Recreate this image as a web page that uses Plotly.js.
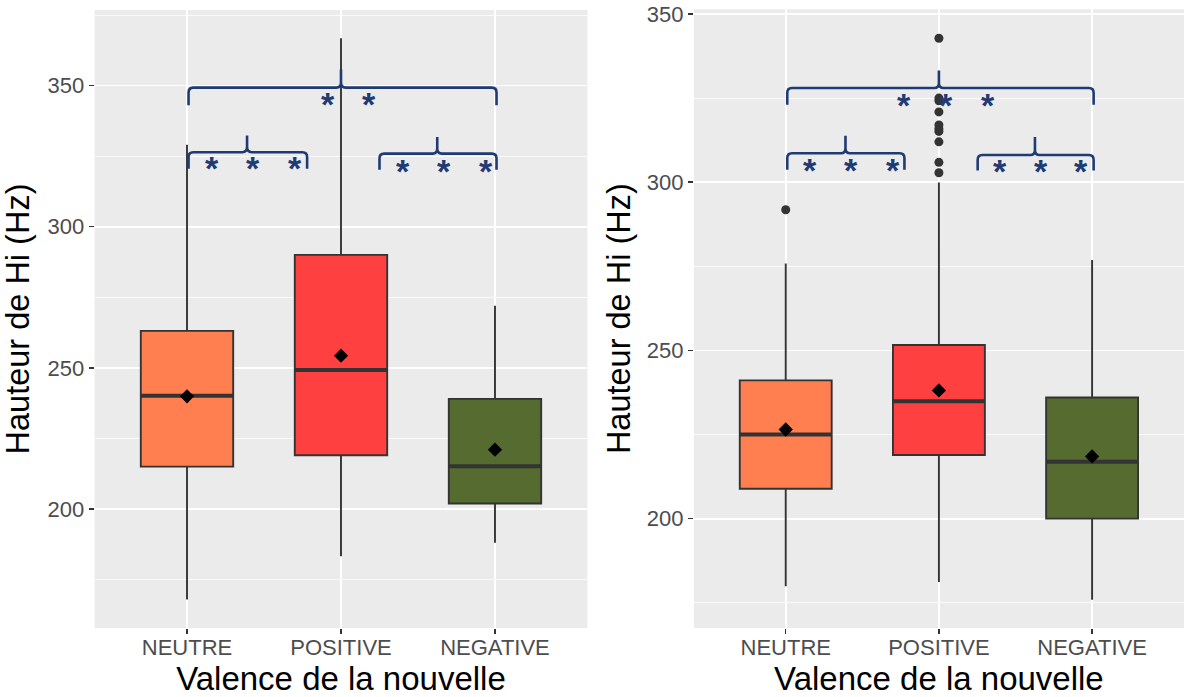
<!DOCTYPE html>
<html><head><meta charset="utf-8">
<script src="https://cdn.plot.ly/plotly-3.0.1.min.js"></script>
<style>html,body{margin:0;padding:0;background:#fff}#chart{width:1184px;height:697px}</style>
</head><body><div id="chart"></div>
<script>
// ---------- data ----------
const categories = ['NEUTRE', 'POSITIVE', 'NEGATIVE'];
const fillColors = ['#FF7F50', '#FF4040', '#556B2F'];

// Left panel
const leftQ1     = [215.0, 219.0, 201.9];
const leftMedian = [240.1, 249.2, 215.1];
const leftQ3     = [263.1, 290.0, 239.0];
const leftLow    = [167.9, 183.2, 188.0];
const leftHigh   = [329.0, 366.8, 272.0];
const leftMean   = [239.9, 254.3, 221.0];

// Right panel
const rightQ1     = [208.9, 218.9, 200.0];
const rightMedian = [225.0, 234.9, 216.9];
const rightQ3     = [241.1, 251.6, 236.0];
const rightLow    = [179.9, 181.2, 175.9];
const rightHigh   = [275.8, 299.9, 276.9];
const rightMean   = [226.5, 238.1, 218.5];
const rightOutliersNeutre   = [291.8];
const rightOutliersPositive = [342.8, 325.0, 324.2, 320.9, 317.0, 315.9, 315.1, 312.0, 305.9, 302.8];

const yTitle = 'Hauteur de Hi (Hz)';
const xTitle = 'Valence de la nouvelle';
const starText = '*';

// significance braces (category positions, y values in Hz)
const leftBraces = [
  {x0: 1.01, x1: 3.01, xm: 2.0,  y: 349.3, tip: 343.0, top: 355.7, stars: [1.914, 2.184], starY: 345.3},
  {x0: 1.01, x1: 1.78, xm: 1.39, y: 326.4, tip: 320.5, top: 332.3, stars: [1.16, 1.43, 1.70], starY: 322.6},
  {x0: 2.25, x1: 3.01, xm: 2.625, y: 325.9, tip: 320.2, top: 331.8, stars: [2.40, 2.67, 2.94], starY: 321.4}
];
const rightBraces = [
  {x0: 1.01, x1: 3.01, xm: 2.0,  y: 328.0, tip: 323.0, top: 333.2, stars: [1.775, 2.047, 2.318], starY: 324.5},
  {x0: 1.01, x1: 1.775, xm: 1.39, y: 308.6, tip: 303.7, top: 313.8, stars: [1.156, 1.428, 1.699], starY: 305.2},
  {x0: 2.253, x1: 3.01, xm: 2.627, y: 308.1, tip: 303.5, top: 313.4, stars: [2.40, 2.666, 2.93], starY: 304.9}
];

// ---------- styles ----------
const navy = '#1F3B73';
const boxLine = '#333333';
const pos = categories.map((c, i) => i + 1);
const halfW = 0.3;

function panelTraces(q1, med, q3, lo, hi, mean, xa, ya) {
  const t = [];
  pos.forEach((p, i) => {
    t.push({
      type: 'box', x: [p], q1: [q1[i]], median: [med[i]], q3: [q3[i]],
      lowerfence: [lo[i]], upperfence: [hi[i]],
      width: 2 * halfW, whiskerwidth: 0, boxpoints: false,
      fillcolor: fillColors[i], line: {color: boxLine, width: 1.9},
      xaxis: xa, yaxis: ya, hoverinfo: 'skip'
    });
  });
  const mx = [], my = [];
  pos.forEach((p, i) => { mx.push(p - halfW, p + halfW, null); my.push(med[i], med[i], null); });
  t.push({type: 'scatter', mode: 'lines', x: mx, y: my, line: {color: '#333333', width: 4},
          xaxis: xa, yaxis: ya, hoverinfo: 'skip'});
  t.push({type: 'scatter', mode: 'markers', x: pos, y: mean,
          marker: {symbol: 'diamond', size: 11, color: '#000'}, xaxis: xa, yaxis: ya, hoverinfo: 'skip'});
  return t;
}

const traces = [
  ...panelTraces(leftQ1, leftMedian, leftQ3, leftLow, leftHigh, leftMean, 'x', 'y'),
  ...panelTraces(rightQ1, rightMedian, rightQ3, rightLow, rightHigh, rightMean, 'x2', 'y2'),
  {type: 'scatter', mode: 'markers',
   x: rightOutliersNeutre.map(() => pos[0]).concat(rightOutliersPositive.map(() => pos[1])),
   y: rightOutliersNeutre.concat(rightOutliersPositive),
   marker: {color: '#333333', size: 9}, xaxis: 'x2', yaxis: 'y2', hoverinfo: 'skip'}
];

function bracePath(b, rx, ry) {
  return `M ${b.x0},${b.tip} L ${b.x0},${b.y - ry} Q ${b.x0},${b.y} ${b.x0 + rx},${b.y} ` +
         `L ${b.xm - rx},${b.y} Q ${b.xm},${b.y} ${b.xm},${b.y + ry} L ${b.xm},${b.top} ` +
         `L ${b.xm},${b.y + ry} Q ${b.xm},${b.y} ${b.xm + rx},${b.y} ` +
         `L ${b.x1 - rx},${b.y} Q ${b.x1},${b.y} ${b.x1},${b.y - ry} L ${b.x1},${b.tip}`;
}

const shapes = [], annotations = [];
function addBraces(list, xr, yr, ry) {
  list.forEach(b => {
    shapes.push({type: 'path', xref: xr, yref: yr, path: bracePath(b, 0.03, ry),
                 line: {color: navy, width: 2.6}});
    b.stars.forEach(sx => annotations.push({
      xref: xr, yref: yr, x: sx, y: b.starY, text: '<b>' + starText + '</b>', showarrow: false,
      font: {size: 34, color: navy, family: 'Liberation Sans, Arial, sans-serif'},
      xanchor: 'center', yanchor: 'middle', yshift: -5
    }));
  });
}
addBraces(leftBraces, 'x', 'y', 1.8);
addBraces(rightBraces, 'x2', 'y2', 1.5);

function xAxis(domain, anchor) {
  return {
    domain: domain, anchor: anchor, range: [0.4, 3.6],
    tickmode: 'array', tickvals: pos, ticktext: categories,
    ticks: 'outside', ticklen: 5, tickwidth: 1.5, tickcolor: '#333',
    tickfont: {size: 22, color: '#4D4D4D'}, ticklabelstandoff: -5,
    showgrid: true, gridcolor: '#FFFFFF', gridwidth: 1.6,
    zeroline: false, showline: false,
    title: {text: xTitle, font: {size: 33, color: '#000'}, standoff: 0}
  };
}
function yAxis(domain, anchor, range, standoff) {
  return {
    domain: domain, anchor: anchor, range: range,
    tick0: 0, dtick: 50,
    ticks: 'outside', ticklen: 5, tickwidth: 1.5, tickcolor: '#333',
    tickfont: {size: 22, color: '#4D4D4D'},
    showgrid: true, gridcolor: '#FFFFFF', gridwidth: 1.8,
    minor: {dtick: 25, showgrid: true, gridcolor: '#FFFFFF', gridwidth: 0.8, ticks: ''},
    zeroline: false, showline: false,
    title: {text: yTitle, font: {size: 32.5, color: '#000'}, standoff: standoff}
  };
}

const layout = {
  width: 1184, height: 697,
  margin: {l: 0, r: 0, t: 0, b: 0},
  paper_bgcolor: '#FFFFFF', plot_bgcolor: '#EBEBEB',
  font: {family: 'Liberation Sans, Arial, sans-serif'},
  showlegend: false,
  xaxis: xAxis([0.0799, 0.4961], 'y'),
  yaxis: yAxis([0.099, 0.9857], 'x', [157.8, 376.8], 12),
  xaxis2: xAxis([0.586, 1.0], 'y2'),
  yaxis2: yAxis([0.099, 0.9867], 'x2', [167.5, 351.4], 6),
  shapes: shapes, annotations: annotations
};

Plotly.newPlot('chart', traces, layout, {staticPlot: true, displayModeBar: false});
</script>
</body></html>
